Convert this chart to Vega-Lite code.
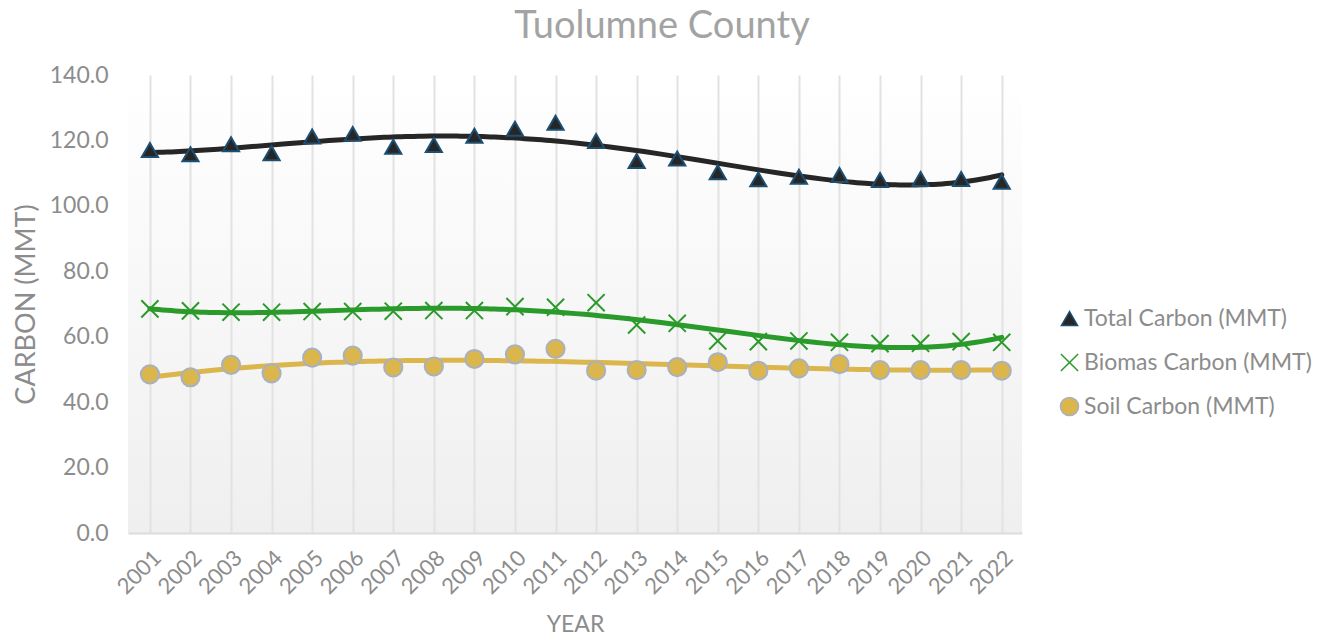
{
  "$schema": "https://vega.github.io/schema/vega-lite/v6.json",
  "width": 894,
  "height": 458,
  "autosize": {"type": "none"},
  "padding": {"left": 128, "top": 75, "right": 307, "bottom": 109},
  "background": "white",
  "title": {"text": "Tuolumne County", "anchor": "middle", "frame": "group", "dx": 87, "offset": 18, "fontSize": 38, "font": "Lato", "fontWeight": "normal", "color": "#a3a3a3"},
  "config": {
    "font": "Lato",
    "view": {"stroke": null, "fill": {"gradient": "linear", "x1": 0, "y1": 0, "x2": 0, "y2": 1, "stops": [{"offset": 0, "color": "#ffffff"}, {"offset": 1, "color": "#efefef"}]}},
    "axis": {"labelFont": "Lato", "titleFont": "Lato", "labelColor": "#8c8c8c", "titleColor": "#8c8c8c", "labelFontSize": 23, "titleFontSize": 27, "titleFontWeight": "normal"}
  },
  "datasets": {
    "carbon": [
      {"year": 2001, "series": "Total Carbon (MMT)", "value": 117.1},
      {"year": 2002, "series": "Total Carbon (MMT)", "value": 115.8},
      {"year": 2003, "series": "Total Carbon (MMT)", "value": 118.8},
      {"year": 2004, "series": "Total Carbon (MMT)", "value": 116.1},
      {"year": 2005, "series": "Total Carbon (MMT)", "value": 121.2},
      {"year": 2006, "series": "Total Carbon (MMT)", "value": 122.0},
      {"year": 2007, "series": "Total Carbon (MMT)", "value": 118.1},
      {"year": 2008, "series": "Total Carbon (MMT)", "value": 118.6},
      {"year": 2009, "series": "Total Carbon (MMT)", "value": 121.4},
      {"year": 2010, "series": "Total Carbon (MMT)", "value": 123.6},
      {"year": 2011, "series": "Total Carbon (MMT)", "value": 125.4},
      {"year": 2012, "series": "Total Carbon (MMT)", "value": 119.8},
      {"year": 2013, "series": "Total Carbon (MMT)", "value": 113.7},
      {"year": 2014, "series": "Total Carbon (MMT)", "value": 114.5},
      {"year": 2015, "series": "Total Carbon (MMT)", "value": 110.3},
      {"year": 2016, "series": "Total Carbon (MMT)", "value": 108.1},
      {"year": 2017, "series": "Total Carbon (MMT)", "value": 108.9},
      {"year": 2018, "series": "Total Carbon (MMT)", "value": 109.4},
      {"year": 2019, "series": "Total Carbon (MMT)", "value": 107.9},
      {"year": 2020, "series": "Total Carbon (MMT)", "value": 108.2},
      {"year": 2021, "series": "Total Carbon (MMT)", "value": 108.2},
      {"year": 2022, "series": "Total Carbon (MMT)", "value": 107.4},
      {"year": 2001, "series": "Biomas Carbon (MMT)", "value": 68.5},
      {"year": 2002, "series": "Biomas Carbon (MMT)", "value": 67.9},
      {"year": 2003, "series": "Biomas Carbon (MMT)", "value": 67.5},
      {"year": 2004, "series": "Biomas Carbon (MMT)", "value": 67.5},
      {"year": 2005, "series": "Biomas Carbon (MMT)", "value": 67.7},
      {"year": 2006, "series": "Biomas Carbon (MMT)", "value": 67.7},
      {"year": 2007, "series": "Biomas Carbon (MMT)", "value": 67.8},
      {"year": 2008, "series": "Biomas Carbon (MMT)", "value": 68.0},
      {"year": 2009, "series": "Biomas Carbon (MMT)", "value": 68.0},
      {"year": 2010, "series": "Biomas Carbon (MMT)", "value": 69.2},
      {"year": 2011, "series": "Biomas Carbon (MMT)", "value": 69.0},
      {"year": 2012, "series": "Biomas Carbon (MMT)", "value": 70.4},
      {"year": 2013, "series": "Biomas Carbon (MMT)", "value": 63.6},
      {"year": 2014, "series": "Biomas Carbon (MMT)", "value": 64.1},
      {"year": 2015, "series": "Biomas Carbon (MMT)", "value": 58.7},
      {"year": 2016, "series": "Biomas Carbon (MMT)", "value": 58.5},
      {"year": 2017, "series": "Biomas Carbon (MMT)", "value": 58.7},
      {"year": 2018, "series": "Biomas Carbon (MMT)", "value": 58.3},
      {"year": 2019, "series": "Biomas Carbon (MMT)", "value": 57.9},
      {"year": 2020, "series": "Biomas Carbon (MMT)", "value": 58.0},
      {"year": 2021, "series": "Biomas Carbon (MMT)", "value": 58.5},
      {"year": 2022, "series": "Biomas Carbon (MMT)", "value": 58.3},
      {"year": 2001, "series": "Soil Carbon (MMT)", "value": 48.5},
      {"year": 2002, "series": "Soil Carbon (MMT)", "value": 47.6},
      {"year": 2003, "series": "Soil Carbon (MMT)", "value": 51.4},
      {"year": 2004, "series": "Soil Carbon (MMT)", "value": 48.8},
      {"year": 2005, "series": "Soil Carbon (MMT)", "value": 53.6},
      {"year": 2006, "series": "Soil Carbon (MMT)", "value": 54.2},
      {"year": 2007, "series": "Soil Carbon (MMT)", "value": 50.6},
      {"year": 2008, "series": "Soil Carbon (MMT)", "value": 50.9},
      {"year": 2009, "series": "Soil Carbon (MMT)", "value": 53.2},
      {"year": 2010, "series": "Soil Carbon (MMT)", "value": 54.6},
      {"year": 2011, "series": "Soil Carbon (MMT)", "value": 56.3},
      {"year": 2012, "series": "Soil Carbon (MMT)", "value": 49.6},
      {"year": 2013, "series": "Soil Carbon (MMT)", "value": 49.8},
      {"year": 2014, "series": "Soil Carbon (MMT)", "value": 50.7},
      {"year": 2015, "series": "Soil Carbon (MMT)", "value": 52.2},
      {"year": 2016, "series": "Soil Carbon (MMT)", "value": 49.6},
      {"year": 2017, "series": "Soil Carbon (MMT)", "value": 50.3},
      {"year": 2018, "series": "Soil Carbon (MMT)", "value": 51.6},
      {"year": 2019, "series": "Soil Carbon (MMT)", "value": 49.8},
      {"year": 2020, "series": "Soil Carbon (MMT)", "value": 49.8},
      {"year": 2021, "series": "Soil Carbon (MMT)", "value": 49.8},
      {"year": 2022, "series": "Soil Carbon (MMT)", "value": 49.6}
    ]
  },
  "data": {"name": "carbon"},
  "encoding": {
    "x": {"field": "year", "type": "quantitative", "scale": {"domain": [2000.46, 2022.5], "nice": false, "zero": false},
      "axis": {"title": "YEAR", "titleFontSize": 23, "values": [2001,2002,2003,2004,2005,2006,2007,2008,2009,2010,2011,2012,2013,2014,2015,2016,2017,2018,2019,2020,2021,2022], "format": "d", "labelAngle": -45, "labelFontSize": 22, "grid": true, "gridColor": "#e2e2e2", "gridWidth": 2, "ticks": false, "domainColor": "#dcdcdc", "domainWidth": 2, "labelPadding": 14, "titlePadding": 16, "labelFlush": false, "labelOverlap": false}},
    "y": {"field": "value", "type": "quantitative", "scale": {"domain": [0, 140], "nice": false},
      "axis": {"title": "CARBON (MMT)", "values": [0,20,40,60,80,100,120,140], "format": ".1f", "grid": false, "domain": false, "ticks": false, "labelPadding": 20, "titlePadding": 9}}
  },
  "layer": [
    {
      "transform": [{"filter": "datum.series === 'Total Carbon (MMT)'"}, {"regression": "value", "on": "year", "method": "poly", "order": 4, "extent": [2001, 2022]}],
      "mark": {"type": "line", "strokeWidth": 5, "strokeCap": "round", "color": "#262626"},
      "encoding": {}
    },
    {
      "transform": [{"filter": "datum.series === 'Biomas Carbon (MMT)'"}, {"regression": "value", "on": "year", "method": "poly", "order": 4, "extent": [2001, 2022]}],
      "mark": {"type": "line", "strokeWidth": 5, "strokeCap": "round", "color": "#2a9a2a"},
      "encoding": {}
    },
    {
      "transform": [{"filter": "datum.series === 'Soil Carbon (MMT)'"}, {"regression": "value", "on": "year", "method": "poly", "order": 4, "extent": [2001, 2022]}],
      "mark": {"type": "line", "strokeWidth": 5, "strokeCap": "round", "color": "#dbb64d"},
      "encoding": {}
    },
    {
      "mark": {"type": "point", "opacity": 1, "strokeWidth": 2},
      "encoding": {
        "shape": {"field": "series", "type": "nominal",
          "scale": {"domain": ["Total Carbon (MMT)", "Biomas Carbon (MMT)", "Soil Carbon (MMT)"], "range": ["triangle-up", "M-1,-1L1,1M-1,1L1,-1", "circle"]},
          "legend": {"title": "Legend", "titleOpacity": 0, "titleFontSize": 10, "titlePadding": 222, "orient": "right", "offset": 36, "labelFontSize": 23, "labelColor": "#8c8c8c", "labelFont": "Lato", "labelLimit": 400, "rowPadding": 19, "labelOffset": 3, "encode": {"symbols": {"update": {"size": {"value": 150}}}}}},
        "fill": {"field": "series", "type": "nominal",
          "scale": {"domain": ["Total Carbon (MMT)", "Biomas Carbon (MMT)", "Soil Carbon (MMT)"], "range": ["#262626", "transparent", "#dbb64d"]},
          "legend": {"title": "Legend", "titleOpacity": 0, "titleFontSize": 10, "titlePadding": 222, "orient": "right", "offset": 36, "labelFontSize": 23, "labelColor": "#8c8c8c", "labelFont": "Lato", "labelLimit": 400, "rowPadding": 19, "labelOffset": 3, "encode": {"symbols": {"update": {"size": {"value": 150}}}}}},
        "stroke": {"field": "series", "type": "nominal",
          "scale": {"domain": ["Total Carbon (MMT)", "Biomas Carbon (MMT)", "Soil Carbon (MMT)"], "range": ["#1d4f73", "#2a9a2a", "#a7b1c2"]},
          "legend": {"title": "Legend", "titleOpacity": 0, "titleFontSize": 10, "titlePadding": 222, "orient": "right", "offset": 36, "labelFontSize": 23, "labelColor": "#8c8c8c", "labelFont": "Lato", "labelLimit": 400, "rowPadding": 19, "labelOffset": 3, "encode": {"symbols": {"update": {"size": {"value": 150}}}}}},
        "size": {"field": "series", "type": "nominal",
          "scale": {"domain": ["Total Carbon (MMT)", "Biomas Carbon (MMT)", "Soil Carbon (MMT)"], "range": [260, 330, 125]},
          "legend": {"title": "Legend", "titleOpacity": 0, "titleFontSize": 10, "titlePadding": 222, "orient": "right", "offset": 36, "labelFontSize": 23, "labelColor": "#8c8c8c", "labelFont": "Lato", "labelLimit": 400, "rowPadding": 19, "labelOffset": 3, "encode": {"symbols": {"update": {"size": {"value": 150}}}}}}
      }
    }
  ]
}
